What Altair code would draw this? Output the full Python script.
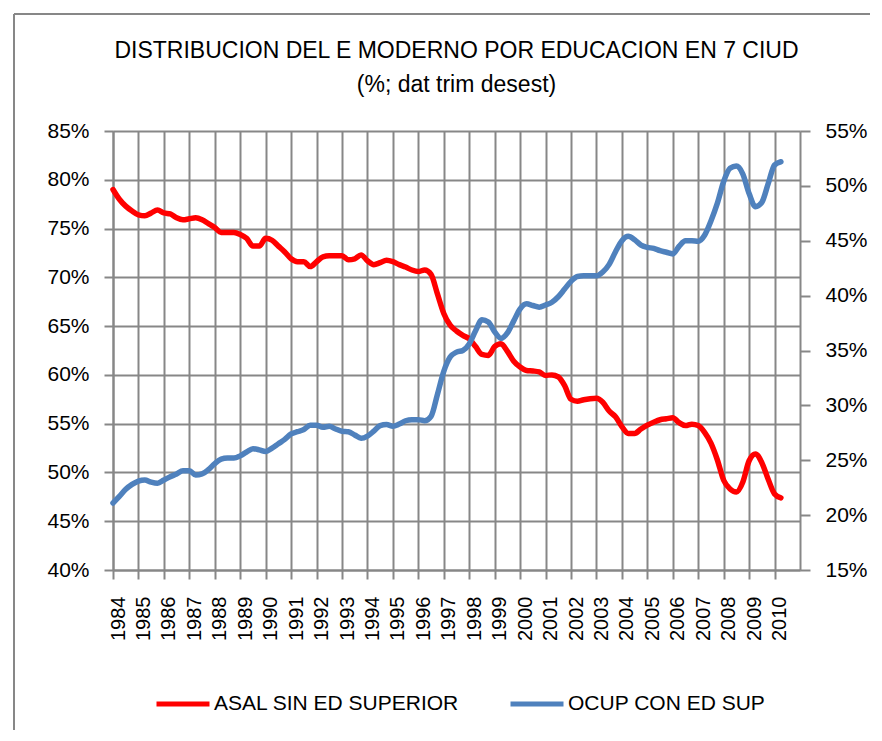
import altair as alt
import pandas as pd

# ---------------- data (quarterly, seasonally adjusted, starting 1984 Q1) ----------------
start_year = 1984

asal_sin_ed_superior = [
    79.0, 78.0, 77.3, 76.8, 76.4, 76.3, 76.6, 76.9, 76.6, 76.5,
    76.1, 75.9, 76.0, 76.1, 75.9, 75.5, 75.1, 74.6, 74.6, 74.6,
    74.4, 74.0, 73.2, 73.2, 74.0, 73.8, 73.2, 72.6, 71.9, 71.6,
    71.6, 71.1, 71.6, 72.1, 72.2, 72.2, 72.2, 71.8, 71.9, 72.3,
    71.7, 71.3, 71.5, 71.75, 71.6, 71.3, 71.05, 70.75, 70.6, 70.75,
    70.3, 68.3, 66.3, 65.1, 64.5, 64.05, 63.7, 62.9, 62.1, 62.0,
    62.9, 63.2, 62.4, 61.4, 60.8, 60.45, 60.4, 60.3, 59.95, 60.0,
    59.8, 58.9, 57.5, 57.3, 57.45, 57.55, 57.6, 57.2, 56.3, 55.7,
    54.7, 54.0, 54.0, 54.45, 54.85, 55.15, 55.4, 55.5, 55.6, 55.1,
    54.8, 54.95, 54.8, 54.1, 53.0, 51.3, 49.2, 48.3, 48.0, 49.0,
    51.2, 51.9, 51.0, 49.3, 47.8, 47.4,
]

ocup_con_ed_sup = [
    21.1, 21.7, 22.35, 22.8, 23.1, 23.2, 23.0, 22.9, 23.2, 23.5,
    23.75, 24.05, 24.05, 23.65, 23.75, 24.15, 24.7, 25.1, 25.2, 25.2,
    25.4, 25.75, 26.05, 25.95, 25.8, 26.1, 26.5, 26.9, 27.4, 27.6,
    27.8, 28.2, 28.2, 28.0, 28.1, 27.85, 27.65, 27.6, 27.3, 27.0,
    27.2, 27.65, 28.15, 28.25, 28.1, 28.3, 28.6, 28.7, 28.7, 28.6,
    29.0, 31.0, 33.1, 34.4, 34.85, 35.0, 35.6, 36.8, 37.8, 37.6,
    36.7, 36.1, 36.6, 37.7, 38.8, 39.25, 39.1, 38.95, 39.15, 39.4,
    39.9, 40.6, 41.3, 41.75, 41.8, 41.8, 41.8, 42.15, 42.85, 44.0,
    45.0, 45.4, 45.1, 44.6, 44.4, 44.3, 44.1, 43.95, 43.8, 44.5,
    45.0, 45.0, 44.95, 45.5, 46.8, 48.4, 50.4, 51.6, 51.8, 51.1,
    49.3, 48.1, 48.5, 50.2, 51.9, 52.2,
]

year_labels = list(range(1984, 2011))
left_ticks = [40, 45, 50, 55, 60, 65, 70, 75, 80, 85]
right_ticks = [15, 20, 25, 30, 35, 40, 45, 50, 55]

RED_NAME = "ASAL SIN ED SUPERIOR"
BLUE_NAME = "OCUP CON ED SUP"
title_lines = ["DISTRIBUCION DEL E MODERNO POR EDUCACION EN 7 CIUD", "(%; dat trim desest)"]

t_red = [start_year + i / 4 for i in range(len(asal_sin_ed_superior))]
t_blue = [start_year + i / 4 for i in range(len(ocup_con_ed_sup))]
df_red = pd.DataFrame({"t": t_red, "v": asal_sin_ed_superior, "serie": RED_NAME})
df_blue = pd.DataFrame({"t": t_blue, "v": ocup_con_ed_sup, "serie": BLUE_NAME})

# ---------------- styling ----------------
FONT = "Liberation Sans"
GRID = "#878787"
RED = "#FF0000"
BLUE = "#4F81BD"

x_enc = alt.X(
    "t:Q",
    scale=alt.Scale(domain=[1984, 2011], nice=False, zero=False),
    axis=alt.Axis(
        values=year_labels, format="d", title=None,
        labelAngle=270, labelAlign="right", labelBaseline="middle",
        labelOffset=5, labelPadding=17, labelFont=FONT, labelFontSize=20,
        labelColor="black", labelFlush=False, labelOverlap=False,
        tickSize=9, tickColor=GRID, tickWidth=2,
        grid=True, gridColor=GRID, gridWidth=2,
        domainColor=GRID, domainWidth=2,
    ),
)

color_enc = alt.Color(
    "serie:N",
    scale=alt.Scale(domain=[RED_NAME, BLUE_NAME], range=[RED, BLUE]),
    legend=alt.Legend(
        orient="none", legendX=41, legendY=544, direction="horizontal",
        title=None, symbolType="stroke", symbolSize=2809, symbolStrokeWidth=5,
        labelFont=FONT, labelFontSize=21, labelColor="black", labelOffset=2,
        columnPadding=40, labelLimit=500, padding=0,
    ),
)

line_props = dict(strokeWidth=5.5, interpolate="monotone", strokeCap="round", strokeJoin="round")

red_line = alt.Chart(df_red).mark_line(**line_props).encode(
    x=x_enc,
    y=alt.Y(
        "v:Q",
        scale=alt.Scale(domain=[40, 85], nice=False, zero=False),
        axis=alt.Axis(
            orient="left", values=left_ticks, labelExpr="datum.value + '%'", title=None,
            labelFont=FONT, labelFontSize=21, labelColor="black", labelPadding=15,
            tickSize=9, tickColor=GRID, tickWidth=2,
            grid=True, gridColor=GRID, gridWidth=2,
            domainColor=GRID, domainWidth=2,
        ),
    ),
    color=color_enc,
)

blue_line = alt.Chart(df_blue).mark_line(**line_props).encode(
    x=x_enc,
    y=alt.Y(
        "v:Q",
        scale=alt.Scale(domain=[15, 55], nice=False, zero=False),
        axis=alt.Axis(
            orient="right", values=right_ticks, labelExpr="datum.value + '%'", title=None,
            labelFont=FONT, labelFontSize=21, labelColor="black", labelPadding=15,
            tickSize=10, tickColor=GRID, tickWidth=2, grid=False,
            domainColor=GRID, domainWidth=2,
        ),
    ),
    color=color_enc,
)

frame_df = pd.DataFrame({"k": [0]})
frame_left = alt.Chart(frame_df).mark_rule(color=GRID, strokeWidth=2).encode(
    x=alt.value(-99), y=alt.value(-117), y2=alt.value(700)
)
frame_top = alt.Chart(frame_df).mark_rule(color=GRID, strokeWidth=2).encode(
    x=alt.value(-99), x2=alt.value(800), y=alt.value(-117)
)

chart = (
    alt.layer(frame_left, frame_top, red_line, blue_line)
    .resolve_scale(y="independent")
    .properties(
        width=687,
        height=439,
        title=alt.TitleParams(
            title_lines, anchor="middle", font=FONT, fontSize=23, fontWeight="normal",
            color="black", lineHeight=34, offset=-84,
        ),
        autosize=alt.AutoSizeParams(type="none"),
        padding={"left": 105, "top": 123, "right": 70, "bottom": 160},
    )
    .configure_view(stroke=None)
    .configure(background="white")
)

chart.save("out.html", embed_options={"renderer": "svg", "actions": False})
